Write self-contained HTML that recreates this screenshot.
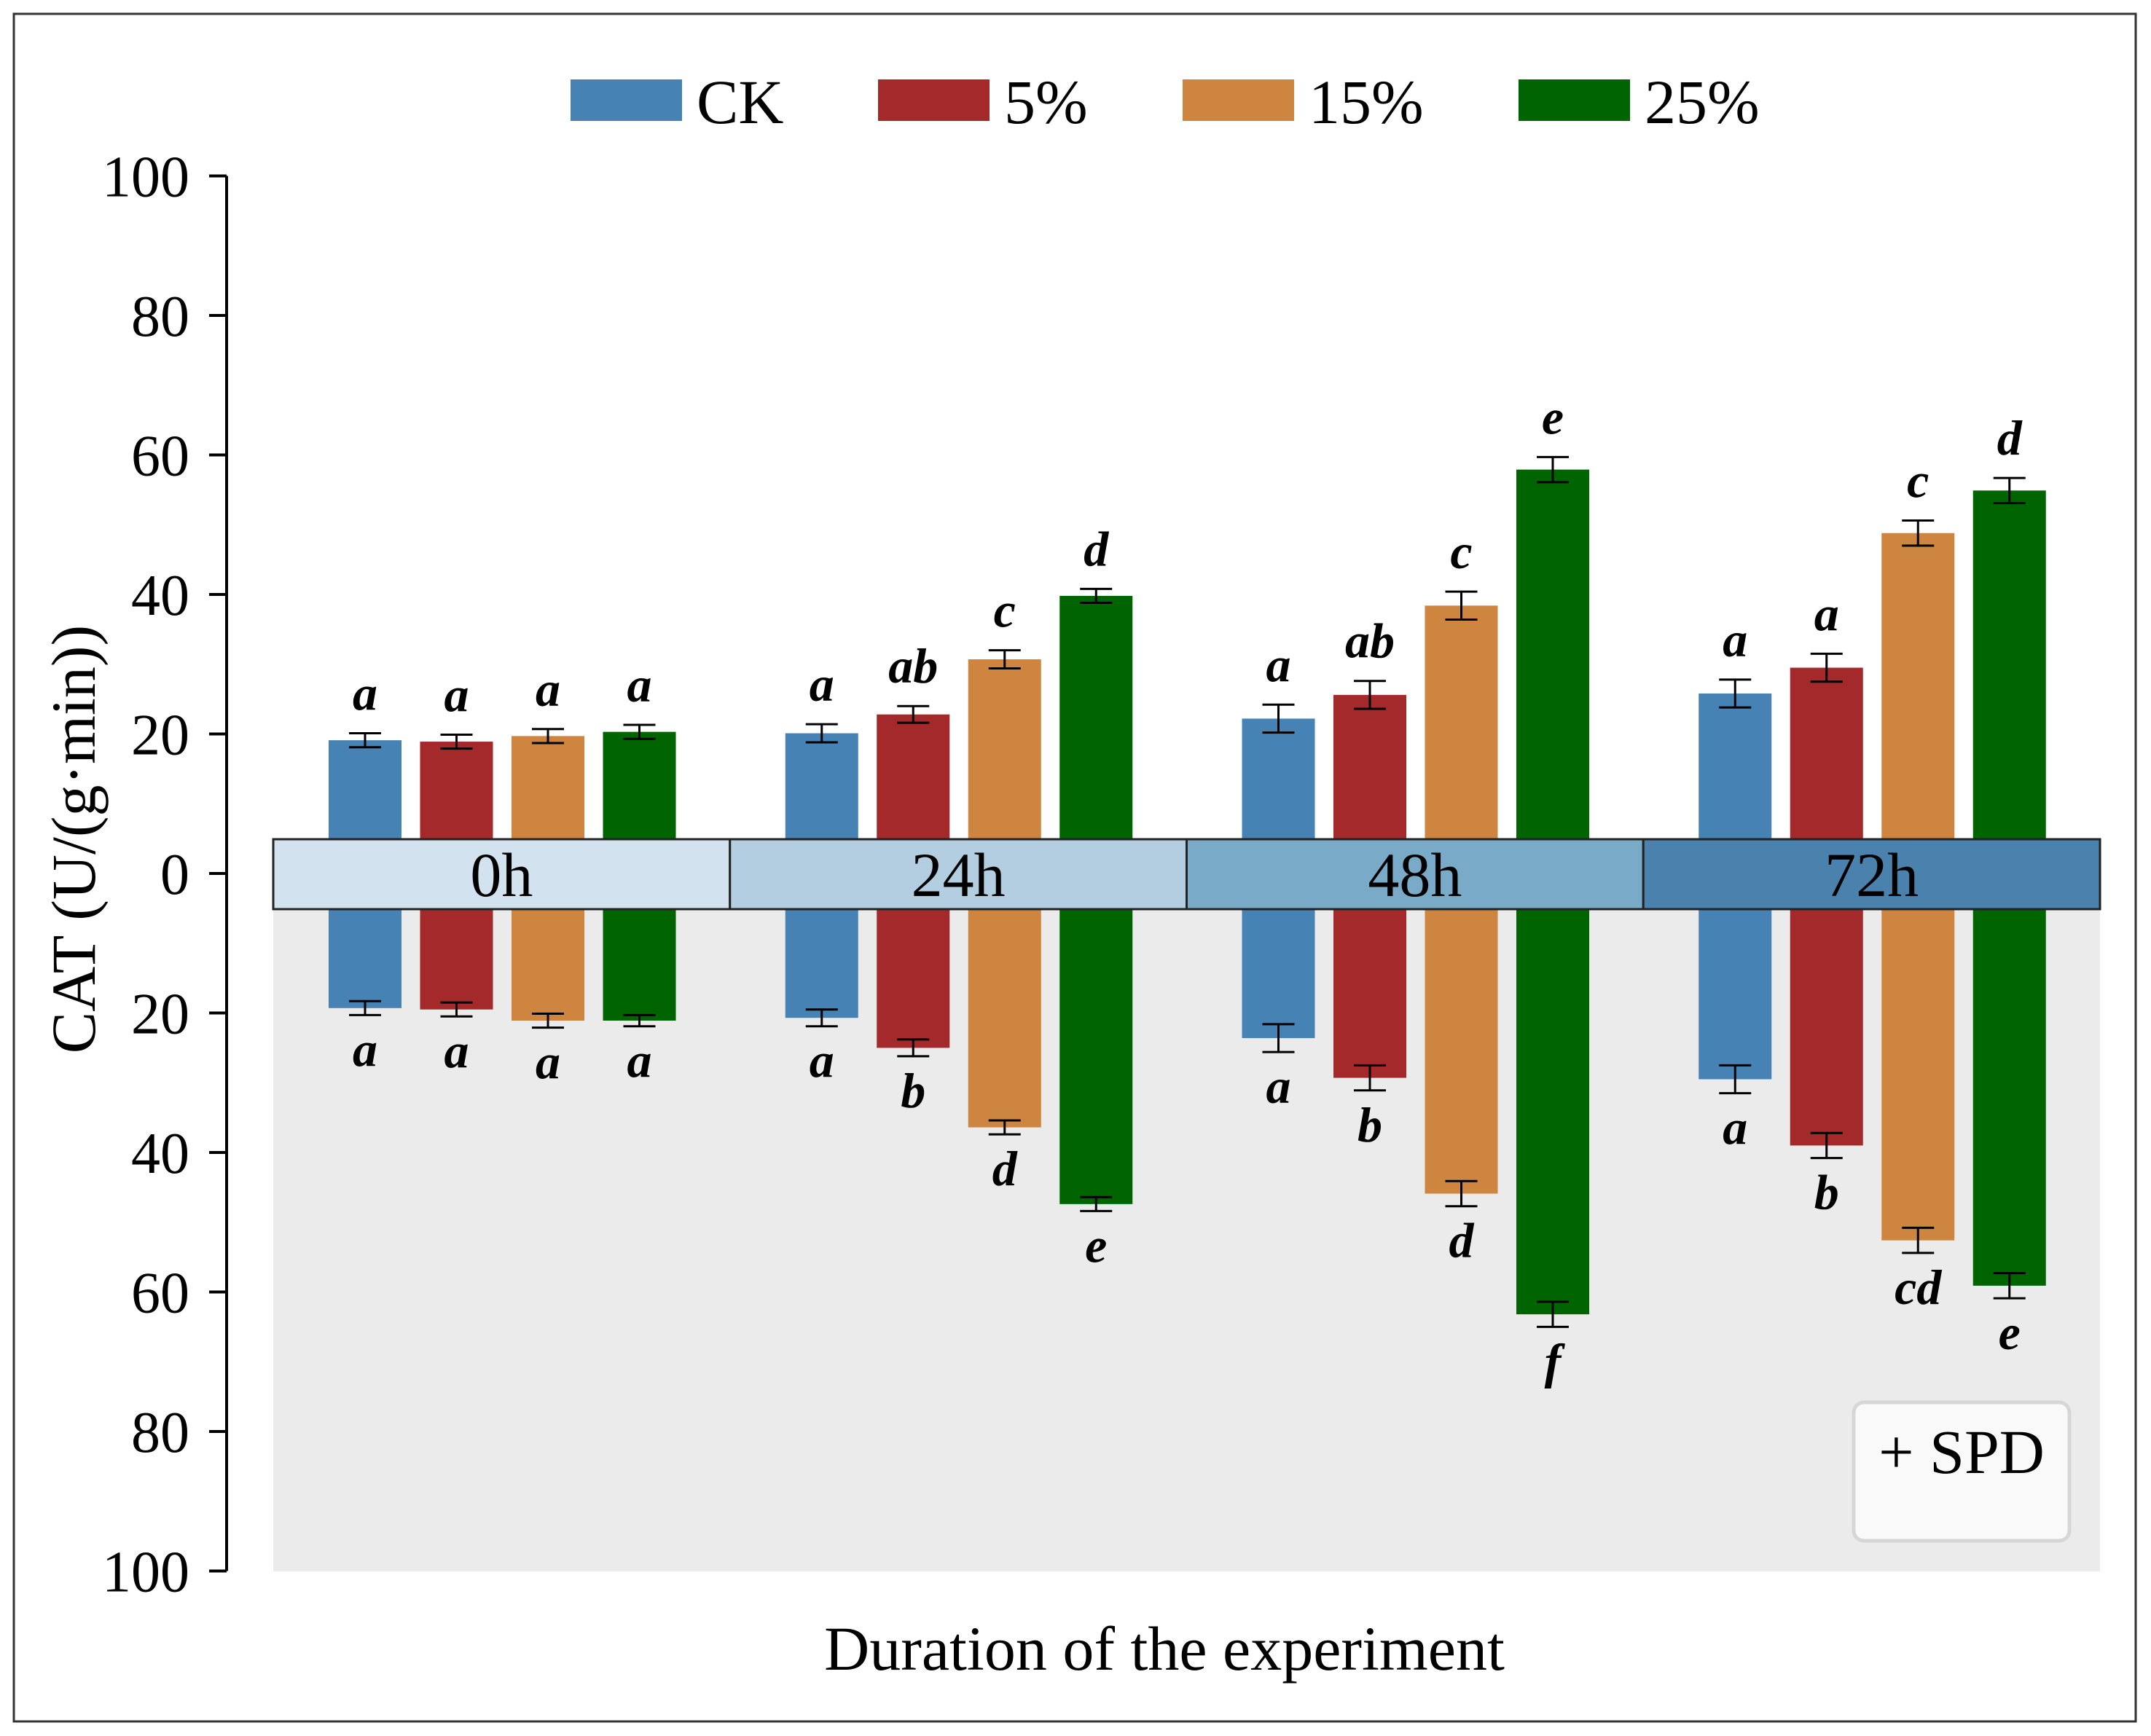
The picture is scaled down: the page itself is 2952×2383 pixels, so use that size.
<!DOCTYPE html>
<html><head><meta charset="utf-8"><style>
html,body{margin:0;padding:0;background:#fff;}
svg{display:block;font-family:"Liberation Serif",serif;}
</style></head><body>
<svg id="chart" width="2952" height="2383" viewBox="0 0 2952 2383" xmlns="http://www.w3.org/2000/svg">
<rect x="19" y="19" width="2912" height="2344" fill="#fff" stroke="#333" stroke-width="3"/>
<rect x="375" y="1248" width="2507" height="909" fill="#ebebeb"/>
<g id="bars"></g>
<g id="band"></g>
<g id="axis"></g>
<g id="legend"></g>
<text transform="translate(130,1152) rotate(-90)" text-anchor="middle" font-size="86">CAT (U/(g·min))</text>
<text x="1598" y="2292" text-anchor="middle" font-size="86">Duration of the experiment</text>
<g>
<rect x="2544" y="1925" width="296" height="190" rx="14" fill="#f9f9f9" stroke="#d6d6d6" stroke-width="5"/>
<text x="2692" y="2022" text-anchor="middle" font-size="86">+ SPD</text>
</g>
</svg>
<script>
const groups = ["0h","24h","48h","72h"];
const series = ["CK","5%","15%","25%"];
const colors = ["#4682b4","#a4292b","#cd853f","#006400"];
const bandColors = ["#d3e2ef","#b2cee0","#79aac8","#4a82ad"];
const topVals = [[19.1,18.9,19.7,20.3],[20.1,22.8,30.7,39.8],[22.2,25.6,38.4,57.9],[25.8,29.5,48.8,54.9]];
const topErr = [[1,1,1,1],[1.3,1.2,1.3,1],[2,2,2,1.8],[2,2,1.8,1.8]];
const topLetters = [["a","a","a","a"],["a","ab","c","d"],["a","ab","c","e"],["a","a","c","d"]];
const botVals = [[19.3,19.5,21.1,21.1],[20.7,25,36.4,47.4],[23.6,29.3,45.9,63.2],[29.5,39,52.6,59.1]];
const botErr = [[1,1,1,0.8],[1.2,1.2,1,1],[2,1.8,1.8,1.8],[2,1.8,1.8,1.8]];
const botLetters = [["a","a","a","a"],["a","b","d","e"],["a","b","d","f"],["a","b","cd","e"]];
const yTicks = [100,80,60,40,20,0,20,40,60,80,100];

const NS="http://www.w3.org/2000/svg";
function mk(tag,attrs,parent){const e=document.createElementNS(NS,tag);for(const k in attrs)e.setAttribute(k,attrs[k]);parent.appendChild(e);return e;}
const zeroY=1199, unit=9.575, bandTop=1152, bandBot=1248;
function yTop(v){return zeroY - v*unit;}
function yBot(v){return zeroY + v*unit;}
const plotX0=375, groupW=626.75, barW=100;
function xCenter(g,s){return plotX0 + g*groupW + 126 + s*125.5;}

const bars=document.getElementById('bars');
groups.forEach((g,gi)=>{
  series.forEach((s,si)=>{
    const cx=xCenter(gi,si);
    const ty=yTop(topVals[gi][si]);
    const r1=mk('rect',{x:cx-barW/2,y:ty,width:barW,height:bandTop-ty,fill:colors[si]},bars);
    
    
    const e1=topErr[gi][si];
    const eg1=mk('path',{d:`M${cx-22},${yTop(topVals[gi][si]+e1)}h44M${cx},${yTop(topVals[gi][si]+e1)}V${yTop(topVals[gi][si]-e1)}M${cx-22},${yTop(topVals[gi][si]-e1)}h44`,stroke:'#000','stroke-width':3,fill:'none'},bars);
    
    
    const t1=mk('text',{x:cx,y:yTop(topVals[gi][si]+e1)-32,'text-anchor':'middle','font-size':68,'font-style':'italic','font-weight':'bold'},bars);
    t1.textContent=topLetters[gi][si];
    
    
    const by=yBot(botVals[gi][si]);
    const r2=mk('rect',{x:cx-barW/2,y:bandBot,width:barW,height:by-bandBot,fill:colors[si]},bars);
    
    
    const e2=botErr[gi][si];
    const eg2=mk('path',{d:`M${cx-22},${yBot(botVals[gi][si]-e2)}h44M${cx},${yBot(botVals[gi][si]-e2)}V${yBot(botVals[gi][si]+e2)}M${cx-22},${yBot(botVals[gi][si]+e2)}h44`,stroke:'#000','stroke-width':3,fill:'none'},bars);
    
    
    const t2=mk('text',{x:cx,y:yBot(botVals[gi][si]+e2)+70,'text-anchor':'middle','font-size':68,'font-style':'italic','font-weight':'bold'},bars);
    t2.textContent=botLetters[gi][si];
    
    
  });
});

const band=document.getElementById('band');
groups.forEach((g,gi)=>{
  const x=plotX0+gi*groupW;
  const r=mk('rect',{x:x,y:bandTop,width:groupW,height:bandBot-bandTop,fill:bandColors[gi],stroke:'#222','stroke-width':3},band);
  
  
  const t=mk('text',{x:x+groupW/2,y:bandTop+78,'text-anchor':'middle','font-size':86},band);
  t.textContent=g;
  
  
});

const axis=document.getElementById('axis');
mk('line',{x1:311,y1:yTop(100),x2:311,y2:yBot(100),stroke:'#000','stroke-width':4},axis);
yTicks.forEach((v,i)=>{
  const y = i<=5 ? yTop(v) : yBot(v);
  mk('line',{x1:287,y1:y,x2:311,y2:y,stroke:'#000','stroke-width':4},axis);
  const t=mk('text',{x:260,y:y+28,'text-anchor':'end','font-size':80},axis);
  t.textContent=v;
  
  
});

const legend=document.getElementById('legend');
const legX=[783,1205,1623,2084];
series.forEach((s,si)=>{
  const r=mk('rect',{x:legX[si],y:109,width:153,height:57,fill:colors[si]},legend);
  
  
  const t=mk('text',{x:legX[si]+173,y:169,'font-size':86},legend);
  t.textContent=s;
  
  
});
</script>
</body></html>
